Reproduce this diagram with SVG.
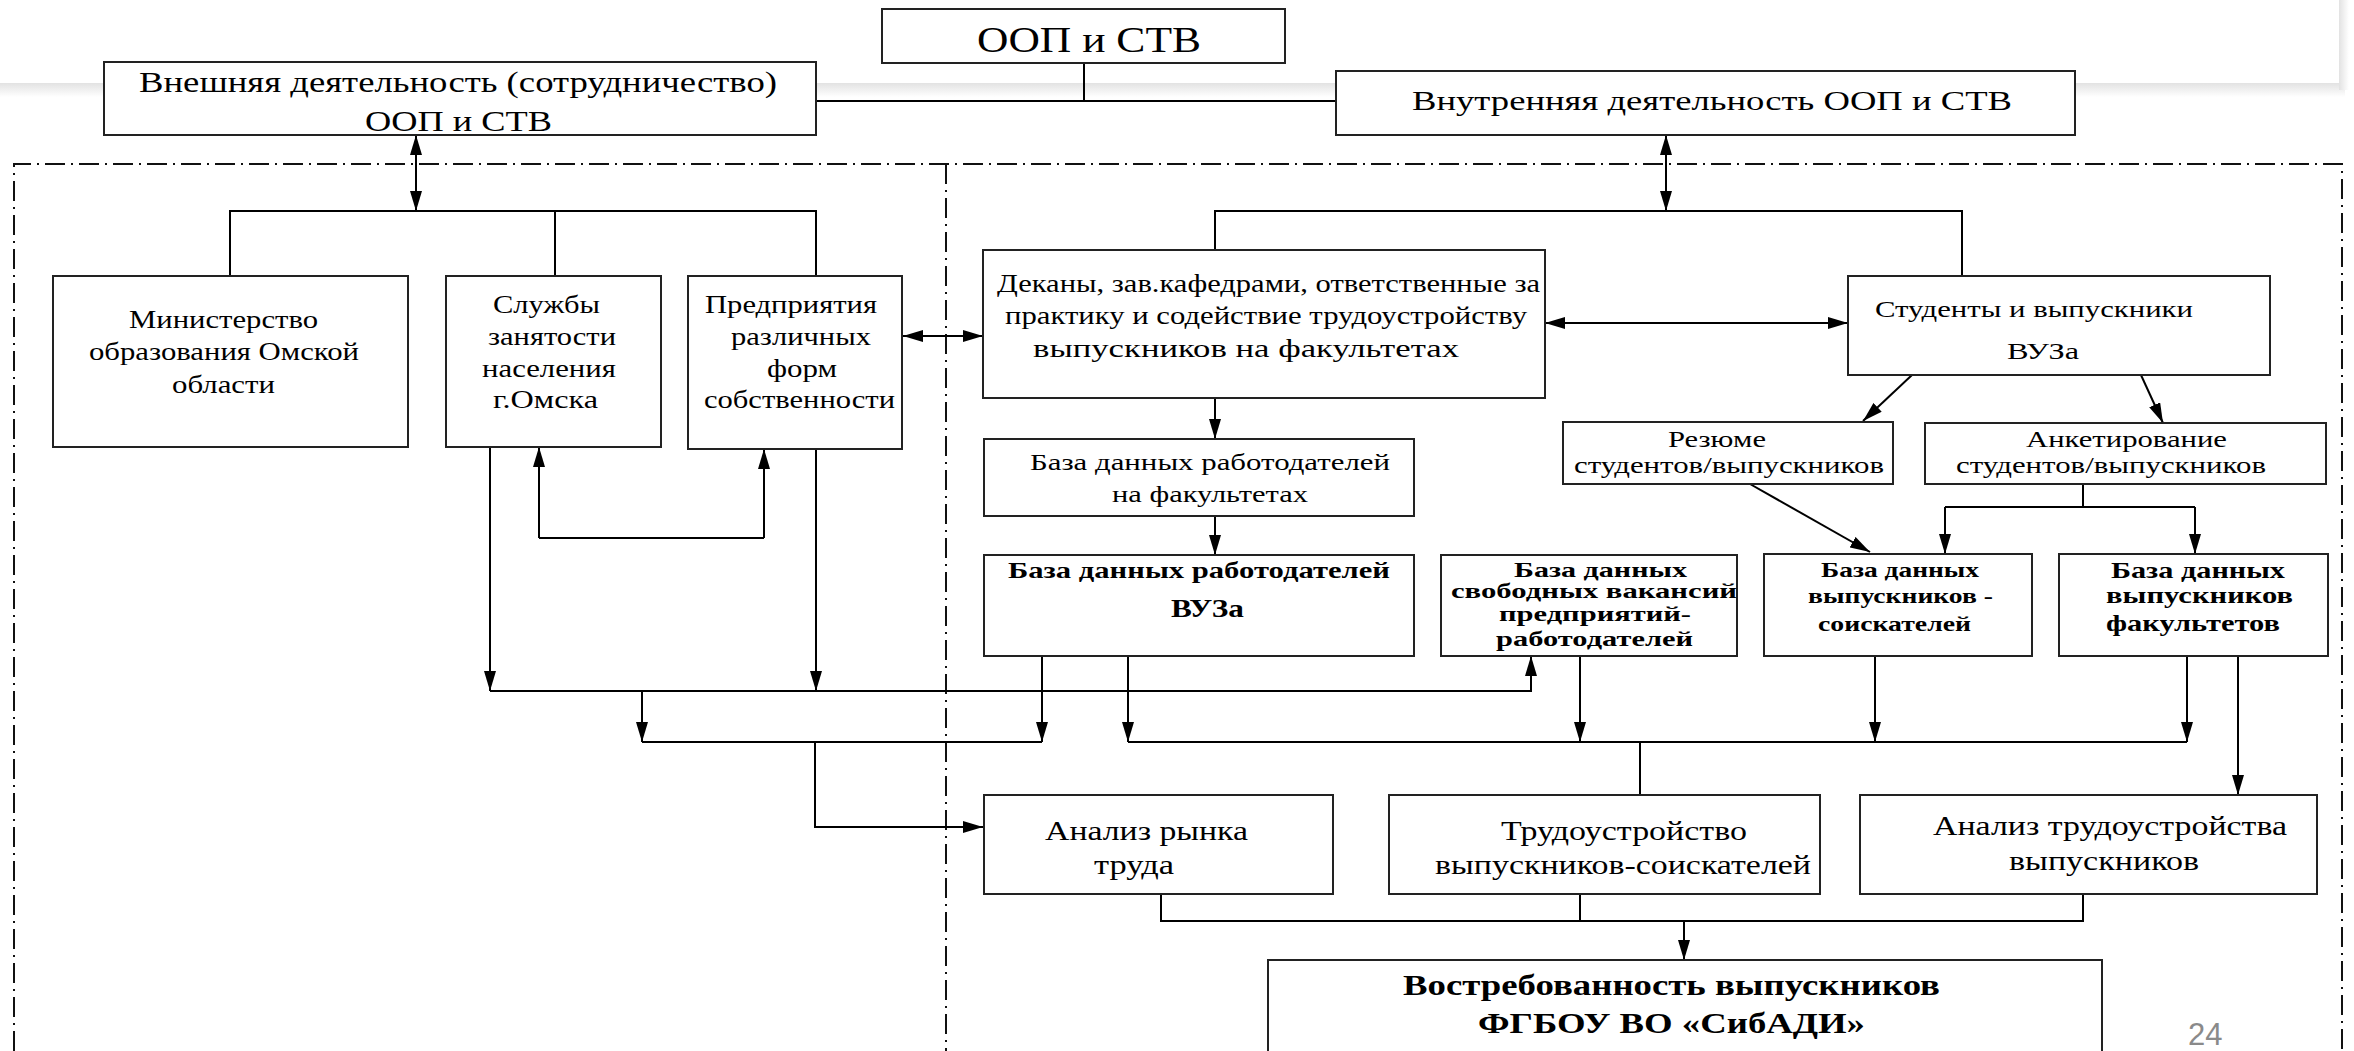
<svg xmlns="http://www.w3.org/2000/svg" width="2354" height="1051" viewBox="0 0 2354 1051">
<defs>
<linearGradient id="shB" x1="0" y1="0" x2="0" y2="1">
<stop offset="0" stop-color="#e2e2e2"/><stop offset="1" stop-color="#ffffff"/>
</linearGradient>
<linearGradient id="shR" x1="0" y1="0" x2="1" y2="0">
<stop offset="0" stop-color="#e2e2e2"/><stop offset="1" stop-color="#ffffff"/>
</linearGradient>
<marker id="ah" markerUnits="userSpaceOnUse" markerWidth="20" markerHeight="12" refX="20" refY="6" orient="auto-start-reverse">
<path d="M0,0 L20,6 L0,12 z" fill="#000"/>
</marker>
</defs>
<style>
.box{fill:#fff;stroke:#222;stroke-width:2}
.t{font-family:"Liberation Serif","Times New Roman",serif;fill:#000}
.b{font-weight:bold}
.c{fill:none;stroke:#000;stroke-width:2}
.a{marker-end:url(#ah)}
.d{marker-start:url(#ah);marker-end:url(#ah)}
.dd{fill:none;stroke:#111;stroke-width:2;stroke-dasharray:20 6 2 6}
</style>
<rect width="2354" height="1051" fill="#fff"/>
<rect x="0" y="83" width="2345" height="14" fill="url(#shB)"/>
<rect x="2339" y="0" width="10" height="90" fill="url(#shR)"/>

<g id="frame">
<path class="dd" d="M14,1051 V164 H2342 V1051"/>
<path class="dd" d="M946,164 V1051"/>
</g>

<g id="connectors">
<path class="c" d="M1084,63 V101"/>
<path class="c" d="M816,101 H1336"/>
<path class="c d" d="M416,135 V211"/>
<path class="c" d="M230,276 V211 H816 V276 M555,211 V276"/>
<path class="c d" d="M1666,135 V211"/>
<path class="c" d="M1215,250 V211 H1962 V276"/>
<path class="c d" d="M903,336 H983"/>
<path class="c d" d="M1545,323 H1848"/>
<path class="c a" d="M1215,398 V439"/>
<path class="c a" d="M1215,516 V555"/>
<path class="c a" d="M1912,375 L1863,421"/>
<path class="c a" d="M2141,375 L2163,423"/>
<path class="c a" d="M1750,484 L1870,552"/>
<path class="c" d="M2083,484 V507 M1945,507 H2195"/>
<path class="c a" d="M1945,507 V554"/>
<path class="c a" d="M2195,507 V554"/>
<path class="c a" d="M490,447 V691"/>
<path class="c a" d="M816,449 V691"/>
<path class="c a" d="M539,538 V447"/>
<path class="c a" d="M764,538 V449"/>
<path class="c" d="M539,538 H764"/>
<path class="c a" d="M490,691 H1531 V656"/>
<path class="c a" d="M642,691 V742"/>
<path class="c" d="M642,742 H1042"/>
<path class="c a" d="M1042,656 V742"/>
<path class="c a" d="M1128,656 V742"/>
<path class="c" d="M1128,742 H2187"/>
<path class="c a" d="M1580,656 V742"/>
<path class="c a" d="M1875,656 V742"/>
<path class="c a" d="M2187,656 V742"/>
<path class="c" d="M1640,742 V795"/>
<path class="c a" d="M815,742 V827 H983"/>
<path class="c a" d="M2238,656 V795"/>
<path class="c" d="M1161,894 V921 H2083 V894 M1580,894 V921"/>
<path class="c a" d="M1684,921 V960"/>
</g>

<g id="oop">
<rect class="box" x="882" y="9" width="403" height="54"/>
<text class="t" x="977" y="52" font-size="36" textLength="224" lengthAdjust="spacingAndGlyphs">ООП и СТВ</text>
</g>
<g id="ext">
<rect class="box" x="104" y="62" width="712" height="73"/>
<text class="t" x="139" y="92" font-size="29" textLength="638" lengthAdjust="spacingAndGlyphs">Внешняя деятельность (сотрудничество)</text>
<text class="t" x="365" y="131" font-size="29" textLength="187" lengthAdjust="spacingAndGlyphs">ООП и СТВ</text>
</g>
<g id="int">
<rect class="box" x="1336" y="71" width="739" height="64"/>
<text class="t" x="1412" y="110" font-size="27" textLength="600" lengthAdjust="spacingAndGlyphs">Внутренняя деятельность ООП и СТВ</text>
</g>
<g id="min">
<rect class="box" x="53" y="276" width="355" height="171"/>
<text class="t" x="129" y="328" font-size="25" textLength="189" lengthAdjust="spacingAndGlyphs">Министерство</text>
<text class="t" x="89" y="360" font-size="25" textLength="270" lengthAdjust="spacingAndGlyphs">образования Омской</text>
<text class="t" x="172" y="393" font-size="25" textLength="103" lengthAdjust="spacingAndGlyphs">области</text>
</g>
<g id="sl">
<rect class="box" x="446" y="276" width="215" height="171"/>
<text class="t" x="493" y="313" font-size="25" textLength="107" lengthAdjust="spacingAndGlyphs">Службы</text>
<text class="t" x="488" y="345" font-size="25" textLength="128" lengthAdjust="spacingAndGlyphs">занятости</text>
<text class="t" x="482" y="377" font-size="25" textLength="134" lengthAdjust="spacingAndGlyphs">населения</text>
<text class="t" x="493" y="408" font-size="25" textLength="105" lengthAdjust="spacingAndGlyphs">г.Омска</text>
</g>
<g id="pr">
<rect class="box" x="688" y="276" width="214" height="173"/>
<text class="t" x="705" y="313" font-size="25" textLength="172" lengthAdjust="spacingAndGlyphs">Предприятия</text>
<text class="t" x="731" y="345" font-size="25" textLength="140" lengthAdjust="spacingAndGlyphs">различных</text>
<text class="t" x="767" y="377" font-size="25" textLength="70" lengthAdjust="spacingAndGlyphs">форм</text>
<text class="t" x="704" y="408" font-size="25" textLength="191" lengthAdjust="spacingAndGlyphs">собственности</text>
</g>
<g id="dek">
<rect class="box" x="983" y="250" width="562" height="148"/>
<text class="t" x="997" y="292" font-size="25" textLength="543" lengthAdjust="spacingAndGlyphs">Деканы, зав.кафедрами, ответственные за</text>
<text class="t" x="1005" y="324" font-size="25" textLength="522" lengthAdjust="spacingAndGlyphs">практику и содействие трудоустройству</text>
<text class="t" x="1033" y="357" font-size="25" textLength="426" lengthAdjust="spacingAndGlyphs">выпускников на факультетах</text>
</g>
<g id="stu">
<rect class="box" x="1848" y="276" width="422" height="99"/>
<text class="t" x="1875" y="317" font-size="24" textLength="318" lengthAdjust="spacingAndGlyphs">Студенты и выпускники</text>
<text class="t" x="2007" y="359" font-size="24" textLength="72" lengthAdjust="spacingAndGlyphs">ВУЗа</text>
</g>
<g id="bdf">
<rect class="box" x="984" y="439" width="430" height="77"/>
<text class="t" x="1030" y="470" font-size="24" textLength="360" lengthAdjust="spacingAndGlyphs">База данных работодателей</text>
<text class="t" x="1112" y="502" font-size="24" textLength="196" lengthAdjust="spacingAndGlyphs">на факультетах</text>
</g>
<g id="res">
<rect class="box" x="1563" y="422" width="330" height="62"/>
<text class="t" x="1668" y="447" font-size="23" textLength="98" lengthAdjust="spacingAndGlyphs">Резюме</text>
<text class="t" x="1574" y="473" font-size="23" textLength="310" lengthAdjust="spacingAndGlyphs">студентов/выпускников</text>
</g>
<g id="ank">
<rect class="box" x="1925" y="423" width="401" height="61"/>
<text class="t" x="2026" y="447" font-size="23" textLength="201" lengthAdjust="spacingAndGlyphs">Анкетирование</text>
<text class="t" x="1956" y="473" font-size="23" textLength="310" lengthAdjust="spacingAndGlyphs">студентов/выпускников</text>
</g>
<g id="vuz">
<rect class="box" x="984" y="555" width="430" height="101"/>
<text class="t b" x="1008" y="578" font-size="24" textLength="382" lengthAdjust="spacingAndGlyphs">База данных работодателей</text>
<text class="t b" x="1171" y="617" font-size="25" textLength="73" lengthAdjust="spacingAndGlyphs">ВУЗа</text>
</g>
<g id="vak">
<rect class="box" x="1441" y="555" width="296" height="101"/>
<text class="t b" x="1514" y="577" font-size="22" textLength="173" lengthAdjust="spacingAndGlyphs">База данных</text>
<text class="t b" x="1451" y="598" font-size="22" textLength="286" lengthAdjust="spacingAndGlyphs">свободных вакансий</text>
<text class="t b" x="1499" y="621" font-size="22" textLength="192" lengthAdjust="spacingAndGlyphs">предприятий-</text>
<text class="t b" x="1496" y="646" font-size="22" textLength="197" lengthAdjust="spacingAndGlyphs">работодателей</text>
</g>
<g id="soi">
<rect class="box" x="1764" y="554" width="268" height="102"/>
<text class="t b" x="1821" y="577" font-size="21" textLength="158" lengthAdjust="spacingAndGlyphs">База данных</text>
<text class="t b" x="1808" y="603" font-size="21" textLength="185" lengthAdjust="spacingAndGlyphs">выпускников -</text>
<text class="t b" x="1818" y="631" font-size="21" textLength="153" lengthAdjust="spacingAndGlyphs">соискателей</text>
</g>
<g id="fak">
<rect class="box" x="2059" y="554" width="269" height="102"/>
<text class="t b" x="2111" y="578" font-size="23" textLength="174" lengthAdjust="spacingAndGlyphs">База данных</text>
<text class="t b" x="2106" y="603" font-size="23" textLength="187" lengthAdjust="spacingAndGlyphs">выпускников</text>
<text class="t b" x="2106" y="631" font-size="23" textLength="174" lengthAdjust="spacingAndGlyphs">факультетов</text>
</g>
<g id="arn">
<rect class="box" x="984" y="795" width="349" height="99"/>
<text class="t" x="1045" y="840" font-size="28" textLength="203" lengthAdjust="spacingAndGlyphs">Анализ рынка</text>
<text class="t" x="1094" y="874" font-size="28" textLength="80" lengthAdjust="spacingAndGlyphs">труда</text>
</g>
<g id="tru">
<rect class="box" x="1389" y="795" width="431" height="99"/>
<text class="t" x="1501" y="840" font-size="28" textLength="246" lengthAdjust="spacingAndGlyphs">Трудоустройство</text>
<text class="t" x="1435" y="874" font-size="28" textLength="376" lengthAdjust="spacingAndGlyphs">выпускников-соискателей</text>
</g>
<g id="atr">
<rect class="box" x="1860" y="795" width="457" height="99"/>
<text class="t" x="1933" y="835" font-size="28" textLength="354" lengthAdjust="spacingAndGlyphs">Анализ трудоустройства</text>
<text class="t" x="2009" y="870" font-size="28" textLength="190" lengthAdjust="spacingAndGlyphs">выпускников</text>
</g>
<g id="vos">
<rect class="box" x="1268" y="960" width="834" height="110"/>
<text class="t b" x="1403" y="995" font-size="30" textLength="537" lengthAdjust="spacingAndGlyphs">Востребованность выпускников</text>
<text class="t b" x="1478" y="1033" font-size="30" textLength="387" lengthAdjust="spacingAndGlyphs">ФГБОУ ВО «СибАДИ»</text>
</g>
<text x="2188" y="1045" font-family="Liberation Sans, Arial, sans-serif" font-size="31" fill="#8a8a8a">24</text>
</svg>
